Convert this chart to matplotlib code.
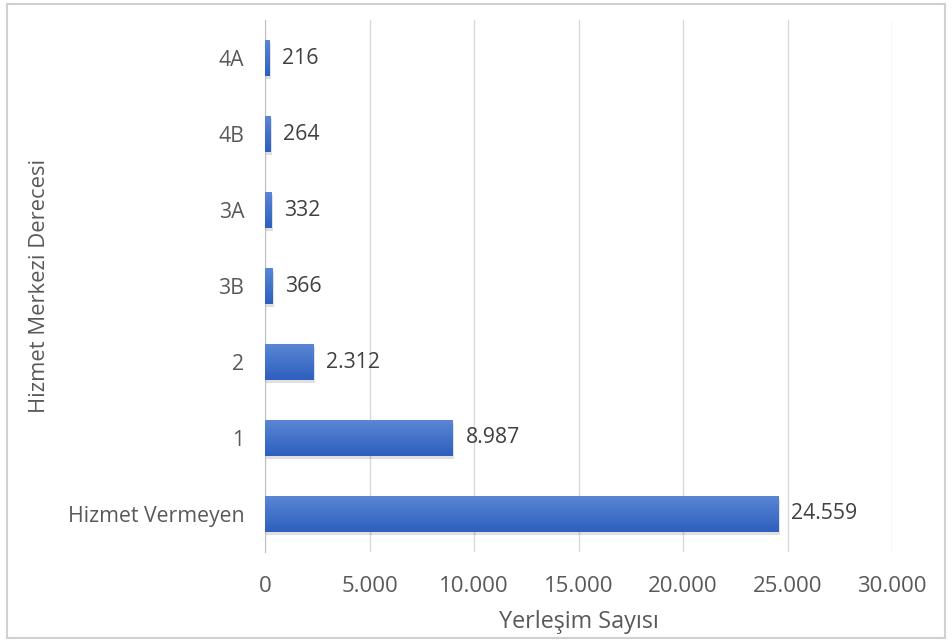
import numpy as np
import matplotlib.pyplot as plt
from matplotlib.patches import Rectangle
from matplotlib.colors import LinearSegmentedColormap

# data
categories = ["Hizmet Vermeyen", "1", "2", "3B", "3A", "4B", "4A"]
counts = [24559, 8987, 2312, 366, 332, 264, 216]
xticks = [0, 5000, 10000, 15000, 20000, 25000, 30000]


def tr_fmt(v):
    return f"{v:,}".replace(",", ".")


plt.rcParams['font.family'] = ['Open Sans', 'DejaVu Sans']
text_col = "#595959"

fig = plt.figure(figsize=(9.52, 6.42), dpi=100)
ax = fig.add_axes([0.2784, 0.1402, 0.6586, 0.8286])

y = np.arange(len(categories))
bars = ax.barh(y, counts, height=0.48, color="none", zorder=3)

# vertical gradient fill + soft shadow on every bar
grad = np.linspace(0, 1, 64).reshape(-1, 1)
cmap = LinearSegmentedColormap.from_list("bl", ["#5b87d4", "#2d5fbe"])
for b in bars:
    x0, y0, w, h = b.get_x(), b.get_y(), b.get_width(), b.get_height()
    sh = Rectangle((x0 + 60, y0 - 0.04), w, h, color="#000000", alpha=0.12,
                   lw=0, zorder=2)
    ax.add_patch(sh)
    im = ax.imshow(grad, extent=(x0, x0 + w, y0, y0 + h), cmap=cmap,
                   aspect="auto", origin="upper", zorder=3)
    im.set_clip_path(b)

for yi, v in zip(y, counts):
    ax.text(v + 600, yi, tr_fmt(v), va="center", ha="left",
            fontsize=15.3, color="#404040")

ax.set_xlim(0, 30000)
ax.set_ylim(-0.5, len(categories) - 0.5)
ax.set_xticks(xticks)
ax.set_xticklabels([tr_fmt(t) for t in xticks], fontsize=16, color=text_col)
ax.set_yticks(y)
ax.set_yticklabels(categories, fontsize=15.3, color=text_col)
ax.tick_params(axis="both", length=0)
ax.tick_params(axis="y", pad=15)
ax.tick_params(axis="x", pad=17)

ax.grid(axis="x", color="#d9d9d9", lw=1, zorder=0)
ax.set_axisbelow(True)
for s in ["top", "right", "bottom"]:
    ax.spines[s].set_visible(False)
ax.spines["left"].set_color("#bfbfbf")
ax.spines["left"].set_zorder(1)

ax.set_xlabel("Yerleşim Sayısı", fontsize=16.8, color=text_col, va="center")
ax.xaxis.set_label_coords(0.5, -0.131)
ax.set_ylabel("Hizmet Merkezi Derecesi", fontsize=15.8, color=text_col, va="center")
ax.yaxis.set_label_coords(-0.359, 0.5)

# outer chart border
fig.add_artist(Rectangle((0.007, 0.006), 0.986, 0.988, transform=fig.transFigure,
                         fill=False, ec="#d0d0d0", lw=1.5))

fig.savefig("out.png", dpi=100)
